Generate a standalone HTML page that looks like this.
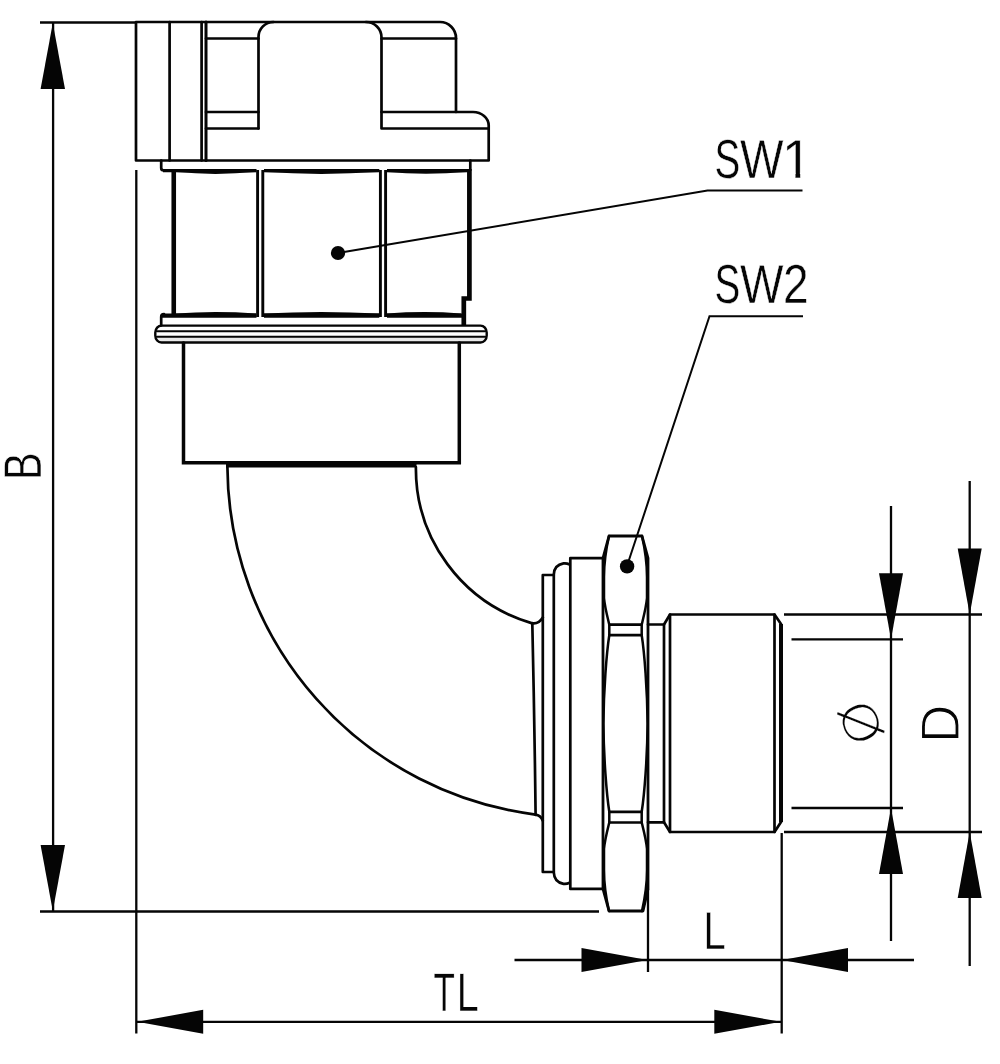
<!DOCTYPE html>
<html lang="en">
<head>
<meta charset="utf-8">
<title>Elbow fitting dimension drawing</title>
<style>
html,body{margin:0;padding:0;background:#fff;}
body{width:1000px;height:1064px;overflow:hidden;font-family:"Liberation Sans",Arial,sans-serif;}
svg{display:block;will-change:transform;}
text{text-rendering:geometricPrecision;}
</style>
</head>
<body>
<svg width="1000" height="1064" viewBox="0 0 1000 1064">
<title>Elbow fitting dimension drawing</title>
<desc>Dimensioned side view of a 90° elbow fitting with labels SW1, SW2, B, TL, L, Ø and D.</desc>
<rect x="0" y="0" width="1000" height="1064" fill="#fff"/>
<g stroke="#050505" stroke-width="2.3" fill="none" stroke-linecap="butt">
<path d="M40 22.5H137"/>
<path d="M53.1 23V911"/>
<path d="M40 911.5H599"/>
<path d="M136.3 170V1033.5"/>
<path d="M137 1021.8H781"/>
<path d="M781.7 833V1033.5"/>
<path d="M514.5 960H914"/>
<path d="M648 889V972"/>
<path d="M969.7 481V966"/>
<path d="M784 614.5H982"/>
<path d="M784 832H982"/>
<path d="M891 506V941"/>
<path d="M791.5 639.3H903"/>
<path d="M791.5 808H903"/>
<path d="M338 253L707.5 190.5H802.5" stroke-width="2"/>
<path d="M627 566L709.5 316.2H803" stroke-width="2"/>
</g>
<g fill="#050505" stroke="none">
<polygon points="52.8,23 65,89 40.6,89"/>
<polygon points="52.8,911 40.6,845 65,845"/>
<polygon points="137.2,1021.8 203.2,1009.8 203.2,1033.8"/>
<polygon points="780.8,1021.8 714.3,1033.8 714.3,1009.8"/>
<polygon points="647.5,960 581.5,972 581.5,948"/>
<polygon points="782,960 848,948 848,972"/>
<polygon points="969.7,614.5 957.7,548.5 981.7,548.5"/>
<polygon points="969.7,832 981.7,898 957.7,898"/>
<polygon points="891,639.3 879,573.3 903,573.3"/>
<polygon points="891,808 903,874 879,874"/>
<circle cx="338" cy="253" r="7.1"/>
<circle cx="627.1" cy="566.4" r="7.2"/>
</g>
<g stroke="#050505" stroke-width="2.7" fill="none" stroke-linejoin="round" stroke-linecap="round">
<path d="M136 22H440A16 16 0 0 1 456 38V112H473A15.7 13.5 0 0 1 488.7 125.5V160.5H136Z"/>
<path d="M169.6 22V160.5M201.6 22V160.5"/>
<path d="M206 22V160.5" stroke-width="3"/>
<path d="M206 38.5H258.5M206 112H258.5M206 128.5H258.5"/>
<path d="M258.5 128.5V37A15 15 0 0 1 273.5 22"/>
<path d="M366 22A15.5 15.5 0 0 1 381.5 37.5V128.5H488.7"/>
<path d="M381.5 38.5H456M381.5 112H456"/>
<path d="M161.2 160.5V168Q161.2 170.5 164 170.5M470.3 160.5V170"/>
<path d="M163 170.6H256.5M264 170.6H379.3M387 170.6H470" stroke-width="3.4" stroke-linecap="butt"/>
<path d="M176 171Q215 174.6 256 171M264 171Q321 174.6 379 171M387 171Q425 174.4 467 171" stroke-width="2.2" stroke-linecap="butt"/>
<path d="M173.75 170V315" stroke-width="4.6" stroke-linecap="butt"/>
<path d="M469.4 169V298.5H463.8V325.5" stroke-width="4.7" stroke-linecap="butt" stroke-linejoin="miter"/>
<path d="M162 315.6H256.5M264 315.6H379.3M387 315.6H463" stroke-width="4.2" stroke-linecap="butt"/>
<path d="M176 314.6Q215 311.6 256 314.6M264 314.6Q321 311.6 379 314.6M387 314.6Q425 311.8 461 314.6" stroke-width="2.2" stroke-linecap="butt"/>
<path d="M257.6 170V317M262.8 170V317M380.4 170V317M385.6 170V317" stroke-width="2.9" stroke-linecap="butt"/>
<path d="M164 314.2Q161.2 314.2 161.2 317V325.5"/>
<rect x="157" y="337" width="328" height="5" fill="#e9e9e9" stroke="none"/>
<rect x="155.3" y="325.6" width="331.4" height="16.9" rx="6.2" ry="7" stroke-width="2.4"/>
<path d="M157 331.3H485M157 336.7H485" stroke-width="2.1"/>
<path d="M183.5 343V462.8H459.3V343" stroke-width="3.5" stroke-linejoin="miter"/>
<path d="M226 464.3H416.5" stroke-width="6.6" stroke-linecap="butt"/>
<path d="M227.4 467A352.9 352.9 0 0 0 535.5 814.6Q540.6 815.2 542.7 820.5"/>
<path d="M415.9 467A161.2 161.2 0 0 0 531.5 623.1Q538.5 624.6 542.8 617.5"/>
<path d="M532.3 623Q534.5 720 535.6 815"/>
<path d="M553.8 575H542.8V872H553.8"/>
<path d="M569.6 564.4Q566.5 563 563.5 563.4Q554.2 565 553.8 574.5V872.5Q554.2 882.3 563.5 883.8Q566.5 884.2 569.6 882.8"/>
<path d="M603 558.2H570.3V888.9H603"/>
<path d="M603 558L609 536H642L648 558V889L643 911H609L603 889Z" stroke-width="2.8"/>
<path d="M609.3 624.6H641.7M609.3 635.2H641.7M609.3 811.8H641.7M609.3 822.5H641.7"/>
<path d="M609 536C605.6 551 604 565 604 577V598C604.8 607 607.2 616 609.3 624.6V635.2C606.6 652 603.7 690 603.4 723.5C603.7 757 606.6 795 609.3 811.8V822.5C607.2 831 604.8 840 604 849V870C604 882 605.6 896 609 911" stroke-width="2.5"/>
<path d="M642 536C645.4 551 647 565 647 577V598C646.2 607 643.8 616 641.7 624.6V635.2C644.4 652 647.3 690 647.6 723.5C647.3 757 644.4 795 641.7 811.8V822.5C643.8 831 646.2 840 647 849V870C647 882 645.4 896 642 911" stroke-width="2.5"/>
<path d="M648 624.5H664L670 614.5H774.5L781 624"/>
<path d="M648 822.3H664L670 832H774.5L781 822"/>
<path d="M664 624.5V822.3M670 614.5V832"/>
<path d="M774.5 614.5V832"/>
<path d="M781 624V822" stroke-width="4" stroke-linecap="butt"/>
</g>
<defs><clipPath id="c1"><rect x="700" y="130" width="120" height="42.4"/><rect x="700" y="172" width="84.6" height="10"/><rect x="795.5" y="172" width="4.7" height="10"/></clipPath></defs>
<g fill="#050505" stroke="#fff" stroke-width="0.45" font-family="'Liberation Sans', Arial, sans-serif">
<text y="177.8" font-size="55" clip-path="url(#c1)" aria-label="SW1"><tspan x="714.45" textLength="25.72" lengthAdjust="spacingAndGlyphs">S</tspan><tspan x="740.00" textLength="43.56" lengthAdjust="spacingAndGlyphs">W</tspan><tspan x="781.79" textLength="30.13" lengthAdjust="spacingAndGlyphs">1</tspan></text>
<text y="302.8" font-size="55" aria-label="SW2"><tspan x="714.45" textLength="25.72" lengthAdjust="spacingAndGlyphs">S</tspan><tspan x="740.00" textLength="43.56" lengthAdjust="spacingAndGlyphs">W</tspan><tspan x="782.88" textLength="25.64" lengthAdjust="spacingAndGlyphs">2</tspan></text>
<text y="948.8" font-size="53.4"><tspan x="703.53" textLength="22.20" lengthAdjust="spacingAndGlyphs">L</tspan></text>
<text y="1010.6" font-size="54" aria-label="TL"><tspan x="433.41" textLength="21.39" lengthAdjust="spacingAndGlyphs">T</tspan><tspan x="456.76" textLength="21.95" lengthAdjust="spacingAndGlyphs">L</tspan></text>
<text transform="translate(41.4 476.6) rotate(-90)" font-size="53.2" stroke-width="0.6"><tspan x="-3.39" textLength="27.57" lengthAdjust="spacingAndGlyphs">B</tspan></text>
<text transform="translate(958.6 738.6) rotate(-90)" font-size="54.6" stroke-width="1.2"><tspan x="-4.38" textLength="38.53" lengthAdjust="spacingAndGlyphs">D</tspan></text>
</g>
<g fill="#050505" stroke="#fff" stroke-width="0.12" font-family="'DejaVu Sans Light', 'DejaVu Sans', 'Liberation Sans', sans-serif" font-weight="200">
<text transform="translate(860.8 722.7) rotate(-114) translate(-19.05 17.13)" font-size="47.07"><tspan x="-3.40" textLength="44.90" lengthAdjust="spacingAndGlyphs">Ø</tspan></text>
</g>
</svg>
</body>
</html>
